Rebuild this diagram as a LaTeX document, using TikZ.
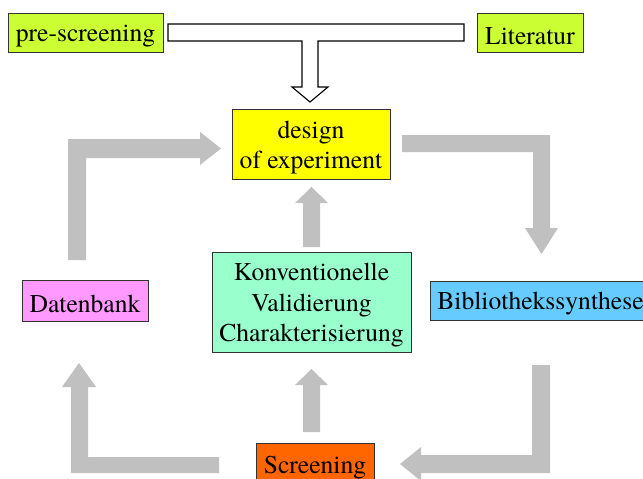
\documentclass[tikz,border=0pt]{standalone}
\usepackage{fontspec}
\setmainfont{texgyretermes-regular.otf}
\definecolor{limey}{HTML}{CCFF33}
\definecolor{designy}{HTML}{FFFF00}
\definecolor{datenp}{HTML}{FF99FF}
\definecolor{konvg}{HTML}{99FFCC}
\definecolor{bibb}{HTML}{66CCFF}
\definecolor{screeno}{HTML}{FF6600}
\definecolor{arrowgray}{HTML}{C0C0C0}
\newcommand{\tstrut}{\rule{0pt}{24.5pt}}
\begin{document}
\begin{tikzpicture}[x=1pt,y=-1pt,
  box/.style={draw=black!80,line width=0.9pt,inner sep=0pt,align=center,
    font=\rmfamily\fontsize{25.6}{30.5}\selectfont},
  grayarrow/.style={fill=arrowgray,draw=none},
  bigarrow/.style={fill=white,draw=black,line width=1.1pt,line join=miter}]
\useasboundingbox (0,0) rectangle (643,479);
\clip (0,0) rectangle (643,479);
\fill[white] (0,0) rectangle (643,479);

% boxes
\node[box,fill=limey,minimum width=155pt,minimum height=39pt] (pre) at (85.5,32.5) {\tstrut pre-screening};
\node[box,fill=limey,minimum width=106pt,minimum height=39pt] (lit) at (530,32.5) {\tstrut Literatur};
\node[box,fill=designy,minimum width=158pt,minimum height=70pt] (design) at (311,144) {\tstrut design\\of experiment};
\node[box,fill=datenp,minimum width=126pt,minimum height=41pt] (daten) at (85,300.5) {\tstrut Datenbank};
\node[box,fill=konvg,minimum width=199pt,minimum height=100pt] (konv) at (311.5,302) {\tstrut Konventionelle\\Validierung\\Charakterisierung};
\node[box,fill=bibb,minimum width=221pt,minimum height=39pt] (bib) at (540.5,300.5) {\tstrut Bibliothekssynthese};
\node[box,fill=screeno,minimum width=118pt,minimum height=43pt] (screen) at (315,464.5) {\tstrut Screening};

% white T arrow
\draw[bigarrow] (168,24) -- (464,24) -- (464,41) -- (318,41) -- (318,87) -- (328,87)
  -- (310,102) -- (292,87) -- (302,87) -- (302,41) -- (168,41) -- cycle;

% gray block arrows
% Datenbank -> design
\path[grayarrow] (68,260) -- (68,139) -- (200,139) -- (200,132) -- (221,148.5)
  -- (200,165) -- (200,158) -- (86,158) -- (86,260) -- cycle;
% design -> Bibliothekssynthese
\path[grayarrow] (402,135) -- (550,135) -- (550,228) -- (558,228) -- (541.5,254)
  -- (525,228) -- (533,228) -- (533,152) -- (402,152) -- cycle;
% Bibliothekssynthese -> Screening
\path[grayarrow] (532,365) -- (550,365) -- (550,473) -- (421,473) -- (421,481)
  -- (400,464) -- (421,447) -- (421,455) -- (532,455) -- cycle;
% Screening -> Datenbank
\path[grayarrow] (219,457) -- (219,473) -- (71,473) -- (71,387) -- (62,387)
  -- (79,363) -- (96,387) -- (88,387) -- (88,457) -- cycle;
% Screening -> Konventionelle
\path[grayarrow] (303,432) -- (303,385) -- (295,385) -- (311.5,369) -- (328,385)
  -- (320,385) -- (320,432) -- cycle;
% Konventionelle -> design
\path[grayarrow] (303,247) -- (303,203) -- (295,203) -- (311.5,187) -- (328,203)
  -- (320,203) -- (320,247) -- cycle;
\end{tikzpicture}
\end{document}
